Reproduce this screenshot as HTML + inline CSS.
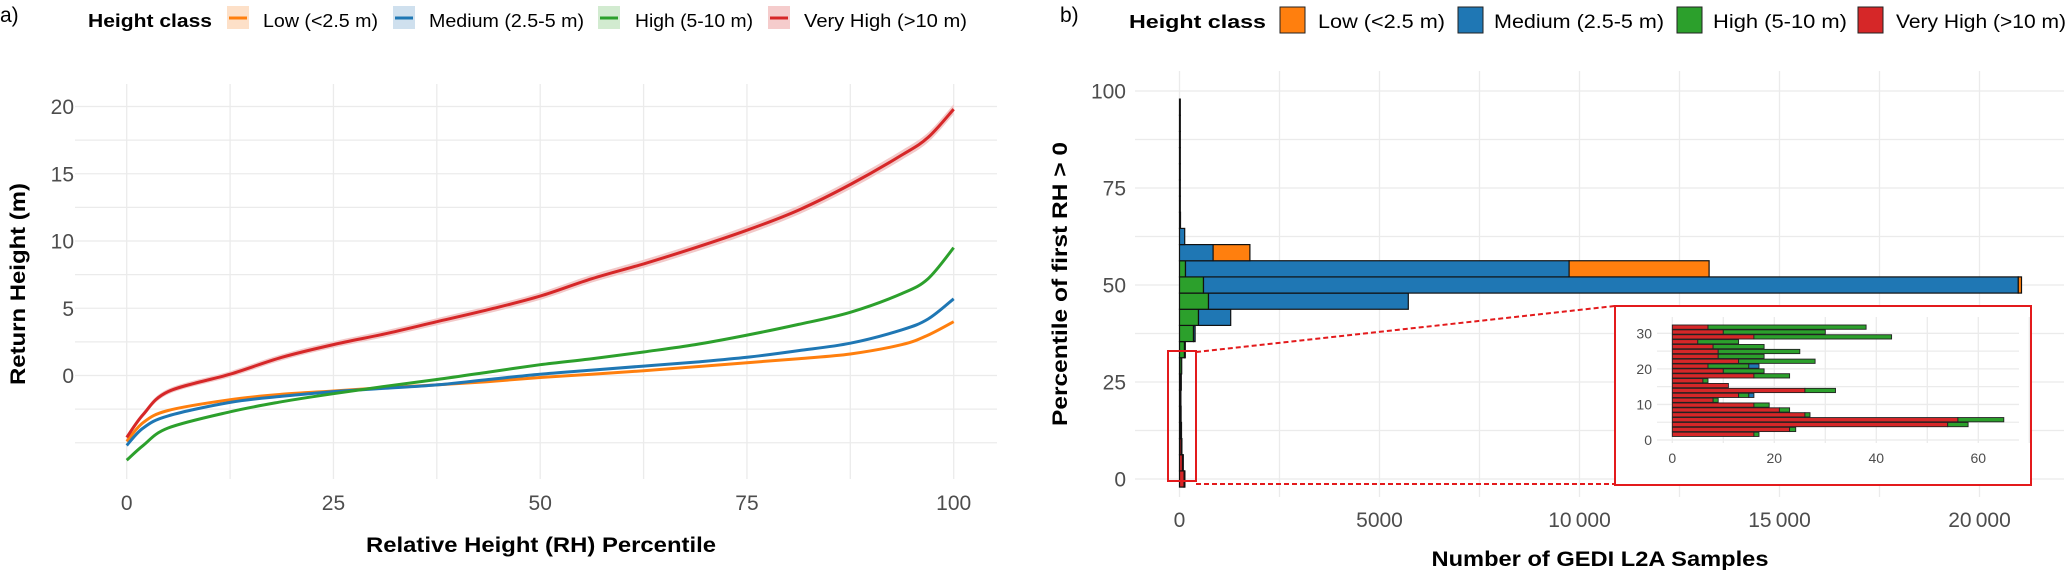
<!DOCTYPE html>
<html><head><meta charset="utf-8"><title>GEDI RH chart</title>
<style>
html,body{margin:0;padding:0;background:#fff;}
svg{display:block;font-family:"Liberation Sans",Arial,sans-serif;}
.tick{fill:#4d4d4d;font-size:21px;}
.ttl{fill:#000;font-size:21px;font-weight:bold;}
.leg{fill:#000;font-size:18px;}
.grid{stroke:#ebebeb;stroke-width:1.3;}
</style></head>
<body>
<svg id="chart" width="2067" height="570" viewBox="0 0 2067 570" xmlns="http://www.w3.org/2000/svg">
<g id="gA"></g>
<g id="gB"></g>
</svg>
<script>
// ---------- Panel a data ----------
const rhPercentiles = [0, 2, 5, 12.5, 18.75, 25, 31.25, 37.5, 43.75, 50, 56.25, 62.5, 68.75, 75, 81.25, 87.5, 93.75, 96.9, 100];
const lowValues     = [-4.9, -3.5, -2.6, -1.8, -1.4, -1.15, -0.9, -0.7, -0.45, -0.15, 0.1, 0.35, 0.65, 0.95, 1.25, 1.6, 2.3, 3.0, 4.0];
const mediumValues  = [-5.2, -3.9, -3.0, -2.0, -1.55, -1.2, -0.95, -0.7, -0.3, 0.1, 0.4, 0.7, 1.0, 1.35, 1.85, 2.4, 3.4, 4.2, 5.7];
const highValues    = [-6.3, -5.2, -3.9, -2.7, -1.95, -1.35, -0.8, -0.3, 0.25, 0.8, 1.25, 1.75, 2.3, 3.0, 3.8, 4.7, 6.1, 7.2, 9.5];
const veryHighValues= [-4.6, -2.9, -1.2, 0.1, 1.35, 2.3, 3.1, 4.0, 4.9, 5.9, 7.2, 8.3, 9.5, 10.8, 12.3, 14.2, 16.4, 17.7, 19.8];
const xTicksA = [0, 25, 50, 75, 100];
const yTicksA = [0, 5, 10, 15, 20];

// ---------- Panel b data (main histogram, bins of 100/24 percentile) ----------
const binCenters = [0, 4.17, 8.33, 12.5, 16.67, 20.83, 25, 29.17, 33.33, 37.5, 41.67, 45.83, 50, 54.17, 58.33, 62.5, 66.67, 70.83, 75, 79.17, 83.33, 87.5, 91.67, 95.83];
const redCounts    = [115, 75, 40, 30, 20, 15, 15, 10, 0, 0, 0, 0, 0, 0, 0, 0, 0, 0, 0, 0, 0, 0, 0, 0];
const greenCounts  = [5, 5, 10, 10, 15, 20, 30, 45, 125, 350, 475, 725, 600, 150, 0, 0, 0, 0, 0, 0, 0, 0, 0, 0];
const blueCounts   = [0, 0, 0, 0, 0, 0, 0, 0, 10, 40, 805, 4995, 20370, 9590, 840, 130, 25, 5, 5, 5, 5, 5, 5, 5];
const orangeCounts = [0, 0, 0, 0, 0, 0, 0, 0, 0, 0, 0, 0, 80, 3500, 920, 0, 0, 0, 0, 0, 0, 0, 0, 0];
const xTicksB = [0, 5000, 10000, 15000, 20000];
const xTickLabelsB = ["0", "5000", "10\u2009000", "15\u2009000", "20\u2009000"];
const yTicksB = [0, 25, 50, 75, 100];

// ---------- Inset data ----------
const insetBins  = [1.6, 2.97, 4.34, 5.71, 7.08, 8.45, 9.82, 11.19, 12.56, 13.93, 15.3, 16.67, 18.04, 19.41, 20.78, 22.15, 23.52, 24.89, 26.26, 27.63, 29.0, 30.37, 31.74];
const insetRed   = [16, 23, 54, 56, 26, 21, 16, 8, 13, 26, 11, 6, 16, 10, 7, 13, 9, 9, 8, 5, 16, 10, 7];
const insetGreen = [1, 1.2, 4, 9, 1, 2, 3, 1, 2, 6, 0, 1, 7, 8, 8, 15, 9, 16, 10, 8, 27, 20, 31];
const insetBlue  = [0, 0, 0, 0, 0, 0, 0, 0, 1, 0, 0, 0, 0, 0, 2, 0, 0, 0, 0, 0, 0, 0, 0];
const insetXTicks = [0, 20, 40, 60];
const insetYTicks = [0, 10, 20, 30];

const C = {low:"#ff7f0e", med:"#1f77b4", high:"#2ca02c", vh:"#d62728"};
const NS = "http://www.w3.org/2000/svg";
function mk(parent, tag, attrs, text){
  const e = document.createElementNS(NS, tag);
  for (const k in attrs) e.setAttribute(k, attrs[k]);
  if (text !== undefined) e.textContent = text;
  parent.appendChild(e);
  return e;
}
function smoothPath(pts, move){
  let d = (move ? 'M' : 'L') + pts[0][0].toFixed(1) + ',' + pts[0][1].toFixed(1);
  for (let i = 0; i < pts.length - 1; i++) {
    const p0 = pts[Math.max(i-1,0)], p1 = pts[i], p2 = pts[i+1], p3 = pts[Math.min(i+2,pts.length-1)];
    const c1x = p1[0] + (p2[0]-p0[0])/6, c1y = p1[1] + (p2[1]-p0[1])/6;
    const c2x = p2[0] - (p3[0]-p1[0])/6, c2y = p2[1] - (p3[1]-p1[1])/6;
    d += ' C' + c1x.toFixed(1)+','+c1y.toFixed(1)+' '+c2x.toFixed(1)+','+c2y.toFixed(1)+' '+p2[0].toFixed(1)+','+p2[1].toFixed(1);
  }
  return d;
}

// ===== Panel A =====
const gA = document.getElementById('gA');
const xA = v => 126.7 + v * 8.27;
const yA = v => 375.5 - v * 13.45;
let el;
for (let v = -5; v <= 20; v += 2.5) {
  el = mk(gA, 'line', {x1:75, x2:997, y1:yA(v), y2:yA(v), class:'grid'});
  
  
}
for (let v = 0; v <= 100; v += 12.5) {
  el = mk(gA, 'line', {x1:xA(v), x2:xA(v), y1:84, y2:479, class:'grid'});
  
  
}
yTicksA.forEach(v => {
  el = mk(gA, 'text', {x:74, y:yA(v)+7.5, 'text-anchor':'end', class:'tick'}, String(v));
  
  
});
xTicksA.forEach(v => {
  el = mk(gA, 'text', {x:xA(v), y:510, 'text-anchor':'middle', class:'tick'}, String(v));
  
  
});
function line(vals, col, name){
  const pts = rhPercentiles.map((p,i)=>[xA(p), yA(vals[i])]);
  el = mk(gA, 'path', {d:smoothPath(pts, true), fill:'none', stroke:col, 'stroke-width':3, 'stroke-linejoin':'round'});
  
  
}
{
  const up = rhPercentiles.map((p,i)=>[xA(p), yA(veryHighValues[i])-2.5-2.5*i/18]);
  const dn = rhPercentiles.map((p,i)=>[xA(p), yA(veryHighValues[i])+2.5+2.5*i/18]).reverse();
  el = mk(gA, 'path', {d:smoothPath(up, true) + ' ' + smoothPath(dn, false) + ' Z', fill:'#f2c9c9'});
  
  
}
line(lowValues, C.low, 'low-line');
line(mediumValues, C.med, 'medium-line');
line(highValues, C.high, 'high-line');
line(veryHighValues, C.vh, 'very-high-line');

el = mk(gA, 'text', {x:541, y:552, 'text-anchor':'middle', class:'ttl', textLength:350, lengthAdjust:'spacingAndGlyphs'}, 'Relative Height (RH) Percentile');


el = mk(gA, 'text', {x:0, y:0, 'text-anchor':'middle', class:'ttl', transform:'translate(25,284) rotate(-90)', textLength:202, lengthAdjust:'spacingAndGlyphs'}, 'Return Height (m)');


el = mk(gA, 'text', {x:0, y:22, style:'font-size:21px'}, 'a)');



el = mk(gA, 'text', {x:88, y:27, class:'leg', 'font-weight':'bold', textLength:124, lengthAdjust:'spacingAndGlyphs'}, 'Height class');


const legA = [
  {k:227, t:263, w:115, c:C.low, f:'#fde0c8', s:'Low (<2.5 m)'},
  {k:393, t:429, w:155, c:C.med, f:'#cfe0ee', s:'Medium (2.5-5 m)'},
  {k:598, t:635, w:118, c:C.high, f:'#d2ebd0', s:'High (5-10 m)'},
  {k:768, t:804, w:163, c:C.vh, f:'#f5cccc', s:'Very High (>10 m)'}
];
legA.forEach(L => {
  const g = mk(gA, 'g', {});
  
  
  mk(g, 'rect', {x:L.k, y:6, width:22, height:23, fill:L.f});
  mk(g, 'line', {x1:L.k+2, x2:L.k+20, y1:18, y2:18, stroke:L.c, 'stroke-width':3});
  mk(g, 'text', {x:L.t, y:27, class:'leg', textLength:L.w, lengthAdjust:'spacingAndGlyphs'}, L.s);
});

// ===== Panel B =====
const gB = document.getElementById('gB');
const xB = c => 1179.5 + c * 0.04;
const yB = p => 479 - p * 3.88;
for (let v = 0; v <= 100; v += 12.5) {
  el = mk(gB, 'line', {x1:1135, x2:2064, y1:yB(v), y2:yB(v), class:'grid'});
  
  
}
for (let v = 0; v <= 22500; v += 2500) {
  if (xB(v) > 2064) break;
  el = mk(gB, 'line', {x1:xB(v), x2:xB(v), y1:71, y2:497, class:'grid'});
  
  
}
yTicksB.forEach(v => {
  el = mk(gB, 'text', {x:1126, y:yB(v)+7.5, 'text-anchor':'end', class:'tick'}, String(v));
  
  
});
xTicksB.forEach((v,i) => {
  el = mk(gB, 'text', {x:xB(v), y:527, 'text-anchor':'middle', class:'tick'}, xTickLabelsB[i]);
  
  
});
const binW = 4.1667;
binCenters.forEach((p,i) => {
  let acc = 0;
  const series = [[redCounts,C.vh,'bar-very-high'],[greenCounts,C.high,'bar-high'],[blueCounts,C.med,'bar-medium'],[orangeCounts,C.low,'bar-low']];
  series.forEach(s => {
    const v = s[0][i];
    if (v <= 0) return;
    el = mk(gB, 'rect', {x:xB(acc), y:yB(p+binW/2), width:Math.max(xB(acc+v)-xB(acc),0.8), height:yB(p-binW/2)-yB(p+binW/2), fill:s[1], stroke:'#111', 'stroke-width':1.2});
    
    
    acc += v;
  });
});
el = mk(gB, 'rect', {x:1168, y:351, width:28, height:130, fill:'none', stroke:'#e31a1c', 'stroke-width':2});


el = mk(gB, 'line', {x1:1196, y1:352, x2:1615, y2:306, stroke:'#e31a1c', 'stroke-width':2, 'stroke-dasharray':'5,3'});


el = mk(gB, 'line', {x1:1196, y1:484, x2:1615, y2:484, stroke:'#e31a1c', 'stroke-width':2, 'stroke-dasharray':'5,3'});



const gI = mk(gB, 'g', {});


mk(gI, 'rect', {x:1615, y:306, width:416, height:179, fill:'#fff', stroke:'#e31a1c', 'stroke-width':2});
const xI = c => 1672.3 + c * 5.1;
const yI = p => 440 - p * 3.556;
for (let v = 0; v <= 32.5; v += 5) {
  el = mk(gI, 'line', {x1:1657, x2:2019, y1:yI(v), y2:yI(v), class:'grid'});
  
  
}
for (let v = 0; v <= 70; v += 10) {
  el = mk(gI, 'line', {x1:xI(v), x2:xI(v), y1:317, y2:443, class:'grid'});
  
  
}
insetYTicks.forEach(v => {
  el = mk(gI, 'text', {x:1652, y:yI(v)+5, 'text-anchor':'end', style:'fill:#4d4d4d;font-size:14px'}, String(v));
  
  
});
insetXTicks.forEach(v => {
  el = mk(gI, 'text', {x:xI(v), y:463, 'text-anchor':'middle', style:'fill:#4d4d4d;font-size:14px'}, String(v));
  
  
});
const iw = 1.37;
insetBins.forEach((p,i) => {
  let acc = 0;
  [[insetRed,C.vh,'inset-bar-very-high'],[insetGreen,C.high,'inset-bar-high'],[insetBlue,C.med,'inset-bar-medium']].forEach(s => {
    const v = s[0][i];
    if (v <= 0) return;
    el = mk(gI, 'rect', {x:xI(acc), y:yI(p+iw/2)+0.3, width:xI(acc+v)-xI(acc), height:yI(p-iw/2)-yI(p+iw/2)-0.6, fill:s[1], stroke:'#222', 'stroke-width':0.9});
    
    
    acc += v;
  });
});

el = mk(gB, 'text', {x:1600, y:566, 'text-anchor':'middle', class:'ttl', textLength:337, lengthAdjust:'spacingAndGlyphs'}, 'Number of GEDI L2A Samples');


el = mk(gB, 'text', {x:0, y:0, 'text-anchor':'middle', class:'ttl', transform:'translate(1067,284) rotate(-90)', textLength:284, lengthAdjust:'spacingAndGlyphs'}, 'Percentile of first RH > 0');


el = mk(gB, 'text', {x:1060, y:22, style:'font-size:21px'}, 'b)');



el = mk(gB, 'text', {x:1129, y:28, class:'leg', 'font-weight':'bold', textLength:137, lengthAdjust:'spacingAndGlyphs'}, 'Height class');


const legB = [
  {k:1280, t:1318, w:127, c:C.low, s:'Low (<2.5 m)'},
  {k:1458, t:1494, w:170, c:C.med, s:'Medium (2.5-5 m)'},
  {k:1677, t:1713, w:134, c:C.high, s:'High (5-10 m)'},
  {k:1858, t:1896, w:170, c:C.vh, s:'Very High (>10 m)'}
];
legB.forEach(L => {
  const g = mk(gB, 'g', {});
  
  
  mk(g, 'rect', {x:L.k, y:7, width:25, height:26, fill:L.c, stroke:'#222', 'stroke-width':1});
  mk(g, 'text', {x:L.t, y:28, class:'leg', style:'font-size:19px', textLength:L.w, lengthAdjust:'spacingAndGlyphs'}, L.s);
});
</script>
</body></html>
